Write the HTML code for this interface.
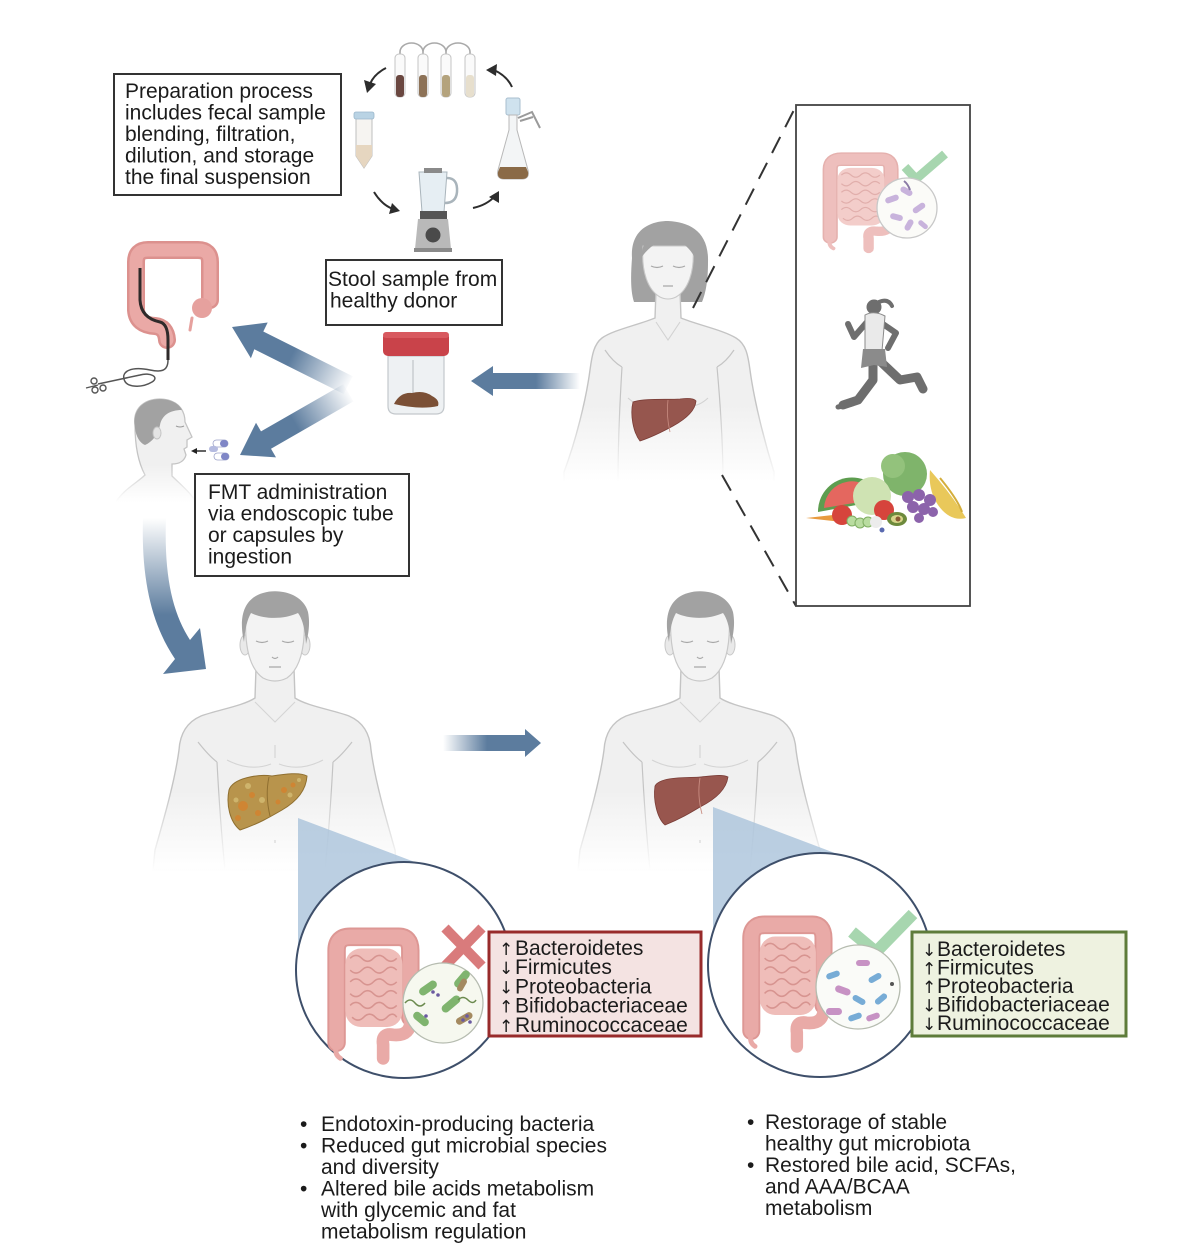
<!DOCTYPE html>
<html><head><meta charset="utf-8">
<style>
html,body{margin:0;padding:0;background:#fff;}
svg{display:block;}
text{font-family:"Liberation Sans",Arial,sans-serif;fill:#1b1b1b;}
.ar{font-family:"DejaVu Sans","Liberation Sans",sans-serif;font-size:17px;}
</style></head><body>
<svg width="1190" height="1247" viewBox="0 0 1190 1247" xmlns="http://www.w3.org/2000/svg">
<defs>
 <linearGradient id="manFill" gradientUnits="userSpaceOnUse" x1="0" y1="790" x2="0" y2="872">
  <stop offset="0" stop-color="#f0f0f0"/><stop offset="1" stop-color="#ffffff"/></linearGradient>
 <linearGradient id="manStroke" gradientUnits="userSpaceOnUse" x1="0" y1="790" x2="0" y2="872">
  <stop offset="0" stop-color="#c4c4c4"/><stop offset="1" stop-color="#ffffff"/></linearGradient>
 <linearGradient id="womFill" gradientUnits="userSpaceOnUse" x1="0" y1="405" x2="0" y2="482">
  <stop offset="0" stop-color="#f0f0f0"/><stop offset="1" stop-color="#ffffff"/></linearGradient>
 <linearGradient id="womStroke" gradientUnits="userSpaceOnUse" x1="0" y1="405" x2="0" y2="482">
  <stop offset="0" stop-color="#c4c4c4"/><stop offset="1" stop-color="#ffffff"/></linearGradient>
 <linearGradient id="profFill" gradientUnits="userSpaceOnUse" x1="0" y1="465" x2="0" y2="502">
  <stop offset="0" stop-color="#f0f0f0"/><stop offset="1" stop-color="#ffffff"/></linearGradient>
 <linearGradient id="profStroke" gradientUnits="userSpaceOnUse" x1="0" y1="465" x2="0" y2="502">
  <stop offset="0" stop-color="#c4c4c4"/><stop offset="1" stop-color="#ffffff"/></linearGradient>

 <linearGradient id="gH" gradientUnits="userSpaceOnUse" x1="470" y1="0" x2="580" y2="0">
  <stop offset="0" stop-color="#5c7c9e"/><stop offset="0.6" stop-color="#5c7c9e"/><stop offset="1" stop-color="#5c7c9e" stop-opacity="0"/></linearGradient>
 <linearGradient id="gU" gradientUnits="userSpaceOnUse" x1="232" y1="327" x2="350" y2="386">
  <stop offset="0" stop-color="#5c7c9e"/><stop offset="0.5" stop-color="#5c7c9e"/><stop offset="1" stop-color="#5c7c9e" stop-opacity="0"/></linearGradient>
 <linearGradient id="gL" gradientUnits="userSpaceOnUse" x1="240" y1="455" x2="350" y2="392">
  <stop offset="0" stop-color="#5c7c9e"/><stop offset="0.5" stop-color="#5c7c9e"/><stop offset="1" stop-color="#5c7c9e" stop-opacity="0"/></linearGradient>
 <linearGradient id="gC" gradientUnits="userSpaceOnUse" x1="0" y1="518" x2="0" y2="615">
  <stop offset="0" stop-color="#5c7c9e" stop-opacity="0"/><stop offset="1" stop-color="#5c7c9e"/></linearGradient>
 <linearGradient id="gM" gradientUnits="userSpaceOnUse" x1="443" y1="0" x2="541" y2="0">
  <stop offset="0" stop-color="#5c7c9e" stop-opacity="0"/><stop offset="0.45" stop-color="#5c7c9e"/><stop offset="1" stop-color="#5c7c9e"/></linearGradient>

 <g id="man">
  <path d="M -19,668 L -20,698 C -32,706 -58,710 -74,716 C -88,722 -95,734 -96,750 C -100,780 -110,815 -120,850 L -122,870 L 122,870 L 120,850 C 110,815 100,780 96,750 C 95,734 88,722 74,716 C 58,710 32,706 20,698 L 19,668 Z" fill="url(#manFill)" stroke="url(#manStroke)" stroke-width="1.4"/>
  <path d="M -58,762 Q -55,820 -50,870 M 58,762 Q 55,820 50,870 M -77,742 Q -66,756 -58,762 M 77,742 Q 66,756 58,762" fill="none" stroke="url(#manStroke)" stroke-width="1.2"/>
  <path d="M -20,702 L 0,722 L 20,702 M -48,760 Q -25,772 -4,764 M 48,760 Q 25,772 4,764 M 0,745 V 758 M 0,840 v 3" fill="none" stroke="#d4d4d4" stroke-width="1.1"/>
  <ellipse cx="-30" cy="645" rx="5" ry="10" fill="#e9e9e9" stroke="#c8c8c8"/>
  <ellipse cx="30" cy="645" rx="5" ry="10" fill="#e9e9e9" stroke="#c8c8c8"/>
  <path d="M -29,612 C -31,645 -26,668 -12,678 Q 0,684 12,678 C 26,668 31,645 29,612 Z" fill="#f3f3f3" stroke="#c8c8c8" stroke-width="1.2"/>
  <path d="M -31,642 C -37,615 -30,598 -12,593 C 5,588 28,594 33,612 C 35,622 34,632 31,644 C 30,630 28,620 23,613 C 8,620 -12,619 -24,613 C -29,622 -30,632 -31,642 Z" fill="#a2a2a2"/>
  <path d="M -19,641 Q -13,644 -7,641 M 7,641 Q 13,644 19,641 M -3,657 Q 0,660 3,657 M -6,667 L 6,667" fill="none" stroke="#a8a8a8" stroke-width="1.2"/>
 </g>

 <g id="gut">
  <path d="M14,118 L14,24 Q14,10 28,10 L78,10 Q90,10 90,24 L90,92" stroke="#dd9794" stroke-width="19" fill="none" stroke-linecap="round"/>
  <path d="M14,118 L14,24 Q14,10 28,10 L78,10 Q90,10 90,24 L90,92" stroke="#e9aaa7" stroke-width="15" fill="none" stroke-linecap="round"/>
  <rect x="23" y="22" width="59" height="80" rx="16" fill="#efbdb9"/>
  <path d="M28,32 q6,-6 12,0 t12,0 t12,0 t12,0 M28,44 q6,6 12,0 t12,0 t12,0 t12,0 M28,56 q6,-6 12,0 t12,0 t12,0 t12,0 M28,68 q6,6 12,0 t12,0 t12,0 t12,0 M28,80 q6,-6 12,0 t12,0 t12,0 t12,0 M30,92 q6,6 12,0 t12,0 t12,0 t10,0" stroke="#d79490" stroke-width="1.6" fill="none"/>
  <path d="M90,92 Q92,112 72,110 Q60,108 62,120 L62,134" stroke="#e9aaa7" stroke-width="13" fill="none" stroke-linecap="round"/>
  <path d="M14,120 Q11,130 18,134" stroke="#e9aaa7" stroke-width="5" fill="none" stroke-linecap="round"/>
 </g>
</defs>

<rect width="1190" height="1247" fill="#fff"/>

<!-- ===== Top preparation box ===== -->
<rect x="114" y="74" width="227" height="121" fill="#fff" stroke="#333" stroke-width="2"/>
<g font-size="21">
 <text x="125" y="98">Preparation process</text>
 <text x="125" y="119.5">includes fecal sample</text>
 <text x="125" y="141">blending, filtration,</text>
 <text x="125" y="162.5">dilution, and storage</text>
 <text x="125" y="184">the final suspension</text>
</g>

<!-- tubes -->
<path d="M400,58 V52 A11.5,9 0 0 1 423,52 V58 M423,52 A11.5,9 0 0 1 446,52 V58 M446,52 A12,9 0 0 1 470,52 V60" fill="none" stroke="#a9a9a9" stroke-width="1.6"/>
<g stroke="#c4c4c4" stroke-width="1">
 <rect x="395" y="54" width="10" height="43" rx="4" fill="#fafafa"/>
 <rect x="418" y="54" width="10" height="43" rx="4" fill="#fafafa"/>
 <rect x="441" y="54" width="10" height="43" rx="4" fill="#fafafa"/>
 <rect x="465" y="54" width="10" height="43" rx="4" fill="#fafafa"/>
</g>
<rect x="396" y="75" width="8" height="22" rx="3" fill="#6a4740"/>
<rect x="419" y="75" width="8" height="22" rx="3" fill="#8d7257"/>
<rect x="442" y="75" width="8" height="22" rx="3" fill="#b4a37d"/>
<rect x="466" y="75" width="8" height="22" rx="3" fill="#e7dfcd"/>

<!-- circular arrows -->
<g fill="none" stroke="#2d2d2d" stroke-width="2">
 <path d="M386,68 Q374,74 370,84"/>
 <path d="M512,87 Q507,76 494,70"/>
 <path d="M374,192 Q382,205 393,209"/>
 <path d="M473,208 Q487,205 495,196"/>
</g>
<g fill="#2d2d2d">
 <polygon points="364,80 376,84 367,93"/>
 <polygon points="486,70 497,64 496,76"/>
 <polygon points="400,211 389,214 392,203"/>
 <polygon points="499,191 499,203 489,197"/>
</g>

<!-- falcon tube -->
<path d="M356,118 H372 V156 L364,168 L356,156 Z" fill="#f6f4f1" stroke="#bfbfbf" stroke-width="1"/>
<path d="M356,145 H372 V156 L364,168 L356,156 Z" fill="#e6d6c0"/>
<rect x="354" y="112" width="20" height="7" rx="2" fill="#b9d3e4" stroke="#9bb7cb" stroke-width="0.8"/>

<!-- flask -->
<rect x="506" y="98" width="14" height="17" rx="2" fill="#cfe2ee" stroke="#a8bfcf" stroke-width="1"/>
<path d="M509,115 H517 V130 L528,170 Q530,179 522,179 H504 Q496,179 498,170 L509,130 Z" fill="#f3f5f6" stroke="#b8b8b8" stroke-width="1"/>
<path d="M500,167 H526 L528,172 Q529,179 522,179 H504 Q497,179 498,172 Z" fill="#8a6a47"/>
<path d="M518,118 L532,112 L540,128 M520,121 L533,117" fill="none" stroke="#9a9a9a" stroke-width="2"/>

<!-- blender -->
<path d="M419,172 H447 L444,212 H422 Z" fill="#e6eef3" stroke="#a9b4bb" stroke-width="1"/>
<path d="M447,178 Q458,178 457,192 Q456,203 445,203" fill="none" stroke="#a9b4bb" stroke-width="2.5"/>
<rect x="424" y="168" width="18" height="5" fill="#8a8a8a"/>
<rect x="420" y="211" width="27" height="8" fill="#555"/>
<path d="M418,219 H448 L451,249 H415 Z" fill="#b9b9b9"/>
<rect x="414" y="248" width="38" height="4" fill="#8a8a8a"/>
<circle cx="433" cy="235" r="7.5" fill="#4a4a4a"/>

<!-- stool box -->
<rect x="326" y="260" width="176" height="65" fill="#fff" stroke="#333" stroke-width="2"/>
<text x="328" y="286" font-size="21">Stool sample from</text>
<text x="330" y="307.5" font-size="21">healthy donor</text>

<!-- jar -->
<path d="M388,356 H444 V406 Q444,414 436,414 H396 Q388,414 388,406 Z" fill="#eef1f3" stroke="#c3c8cc" stroke-width="1.2"/>
<path d="M413,360 V393" stroke="#c8ccd0" stroke-width="1.5"/>
<path d="M394,404 Q400,392 412,393 Q424,390 432,396 Q440,400 438,406 Q420,410 394,404 Z" fill="#7b5036"/>
<rect x="383" y="332" width="66" height="24" rx="5" fill="#c9434a"/>
<rect x="383" y="332" width="66" height="6" rx="3" fill="#d8595f"/>

<!-- arrows from donor -->
<polygon points="471,381 493,366 493,373 580,373 580,389 493,389 493,396" fill="url(#gH)"/>
<polygon points="232,327 267.7,322.5 263.3,331.5 352.7,376.2 343.7,394 254.3,349.3 250.9,358.3" fill="url(#gU)"/>
<polygon points="240,455 256,422.8 261,431.4 343.4,384.1 353.4,401.4 271,448.8 276,457.4" fill="url(#gL)"/>

<!-- colon with endoscope -->
<path d="M210,300 L210,262 Q210,250 198,250 L148,250 Q136,250 136,262 L136,310 Q137,325 155,326 Q166,327 167,340" fill="none" stroke="#dc918e" stroke-width="18" stroke-linecap="round"/>
<path d="M210,300 L210,262 Q210,250 198,250 L148,250 Q136,250 136,262 L136,310 Q137,325 155,326 Q166,327 167,340" fill="none" stroke="#eaa9a6" stroke-width="13" stroke-linecap="round"/>
<circle cx="202" cy="308" r="10" fill="#e6a19e"/>
<path d="M192,318 L190,330" stroke="#e6a19e" stroke-width="3" stroke-linecap="round"/>
<path d="M140,268 L140,300 Q141,318 160,322 Q168,324 168,340 L168,360" fill="none" stroke="#2f2a2a" stroke-width="3"/>
<path d="M168,360 C168,372 160,372 150,370 C130,366 122,372 124,379 C126,388 142,388 152,382 C160,377 150,372 140,375 L98,384" fill="none" stroke="#555" stroke-width="1.5"/>
<g fill="none" stroke="#555" stroke-width="1.4"><circle cx="94" cy="381" r="3"/><circle cx="95" cy="390" r="3"/><circle cx="103" cy="388" r="3"/><path d="M98,385 L86,388"/></g>

<!-- profile man with capsules -->
<path d="M135,425 C132,405 150,396 168,400 C180,403 185,412 185,422 L192,437 L187,440 L187,447 L184,449 L186,455 C184,462 178,464 172,464 L172,476 C180,484 190,492 196,502 L116,502 C123,490 138,482 145,475 C138,462 135,445 135,425 Z" fill="url(#profFill)" stroke="url(#profStroke)" stroke-width="1.3"/>
<path d="M135,428 C131,405 150,396 168,400 C176,402 180,406 182,410 C170,410 162,415 160,425 C158,435 152,442 145,445 C140,443 136,437 135,428 Z" fill="#a2a2a2"/>
<ellipse cx="157" cy="433" rx="4" ry="6" fill="#e4e4e4" stroke="#c4c4c4"/>
<path d="M176,426 Q180,428 184,426" stroke="#999" fill="none"/>
<g>
 <rect x="213" y="440" width="15" height="7" rx="3.5" fill="#fff" stroke="#9aa0c8" stroke-width="0.8"/>
 <rect x="220" y="440" width="8" height="7" rx="3.5" fill="#7f86c6"/>
 <rect x="214" y="453" width="15" height="7" rx="3.5" fill="#fff" stroke="#9aa0c8" stroke-width="0.8"/>
 <rect x="221" y="453" width="8" height="7" rx="3.5" fill="#7f86c6"/>
 <rect x="209" y="446" width="9" height="6" rx="3" fill="#b5bbe0"/>
</g>
<path d="M206,451 H196" stroke="#222" stroke-width="1.4"/>
<polygon points="191,451 197,448 197,454" fill="#222"/>

<!-- FMT box -->
<rect x="195" y="474" width="214" height="102" fill="#fff" stroke="#333" stroke-width="2"/>
<g font-size="21">
 <text x="208" y="499">FMT administration</text>
 <text x="208" y="520.5">via endoscopic tube</text>
 <text x="208" y="542">or capsules by</text>
 <text x="208" y="563.5">ingestion</text>
</g>

<!-- curved arrow -->
<path d="M143,518 C141,580 152,625 175,659 L163,674 L206,669 L200,628 L190,640 C172,612 164,575 166,518 Z" fill="url(#gC)"/>

<!-- woman -->
<g transform="translate(668,0)">
 <path d="M -36,258 C -38,230 -18,221 0,221 C 22,222 41,232 40,262 C 40,280 38,292 34,302 L -34,302 C -38,290 -37,272 -36,258 Z" fill="#a2a2a2"/>
 <path d="M -12,290 L -13,318 C -30,325 -55,330 -66,338 C -74,344 -76,355 -78,370 C -82,400 -92,440 -104,472 L -104,482 L 106,482 L 106,472 C 96,440 86,400 82,370 C 80,355 78,344 68,338 C 55,330 30,325 13,318 L 12,290 Z" fill="url(#womFill)" stroke="url(#womStroke)" stroke-width="1.4"/>
 <path d="M -46,367 C -48,400 -50,440 -50,482 M 49,367 C 52,400 55,440 55,482 M -63,350 Q -55,362 -46,367 M 66,350 Q 58,362 49,367" fill="none" stroke="url(#womStroke)" stroke-width="1.2"/>
 <path d="M -40,398 Q -25,412 -8,402 M 8,402 Q 25,412 40,398 M -12,322 L 0,340 L 12,322" fill="none" stroke="#d2d2d2" stroke-width="1.1"/>
 <path d="M -25,246 C -27,272 -20,290 -8,297 Q 0,301 8,297 C 20,290 27,272 25,246 Z" fill="#f3f3f3" stroke="#c8c8c8" stroke-width="1.1"/>
 <path d="M -27,258 C -26,236 -8,226 8,229 C 20,232 28,242 27,258 C 20,244 8,238 -2,240 C -12,242 -20,248 -27,258 Z" fill="#a2a2a2"/>
 <path d="M -17,266 Q -11,269 -5,266 M 5,266 Q 11,269 17,266 M -5,286 L 5,286" fill="none" stroke="#a8a8a8" stroke-width="1.2"/>
</g>
<path d="M633,402 C645,398 668,400 680,399 C688,398 694,398 696,401 C695,412 684,420 673,426 C662,432 652,437 640,441 C633,432 630,414 633,402 Z" fill="#96564e" stroke="#7a3d37" stroke-width="0.8"/>
<path d="M668,400 Q666,415 670,432" stroke="#c98d82" stroke-width="0.8" fill="none"/>

<!-- dashed lines and right box -->
<path d="M693,308 L796,106 M722,475 L796,606" stroke="#333" stroke-width="2" stroke-dasharray="18 11" fill="none"/>
<rect x="796" y="105" width="174" height="501" fill="none" stroke="#444" stroke-width="1.8"/>

<!-- box content: gut -->
<g opacity="0.75"><use href="#gut" transform="translate(819,152) scale(0.8,0.72)"/></g>
<path d="M905,167 L916,179 L945,154" fill="none" stroke="#a7d6af" stroke-width="9"/>
<circle cx="907" cy="208" r="30" fill="#fbfbf8" stroke="#c8c8c8" stroke-width="1.3"/>
<g fill="#c8b3dc">
 <rect x="885" y="196" width="14" height="6" rx="3" transform="rotate(-20 892 199)"/>
 <rect x="900" y="188" width="13" height="6" rx="3" transform="rotate(30 906 191)"/>
 <rect x="912" y="205" width="14" height="6" rx="3" transform="rotate(-35 919 208)"/>
 <rect x="890" y="214" width="13" height="6" rx="3" transform="rotate(15 896 217)"/>
 <rect x="903" y="222" width="12" height="6" rx="3" transform="rotate(-60 909 225)"/>
 <rect x="918" y="222" width="11" height="5" rx="2.5" transform="rotate(40 923 224)"/>
</g>
<path d="M904,181 Q908,184 910,190" stroke="#8a7aa6" stroke-width="2" fill="none"/>

<!-- runner -->
<g fill="#6e6e6e" stroke="#6e6e6e" stroke-linecap="round" stroke-linejoin="round">
 <circle cx="874" cy="307" r="7.5" stroke="none"/>
 <path d="M879,302 Q888,298 892,306" fill="none" stroke-width="4"/>
 <path d="M867,322 L854,337 L848,324" fill="none" stroke-width="6"/>
 <path d="M880,322 L896,333 L888,348" fill="none" stroke-width="6"/>
 <path d="M873,362 L873,380 L858,400 L843,405" fill="none" stroke-width="9"/>
 <path d="M881,362 L900,380 L917,377 L923,389" fill="none" stroke-width="9"/>
 <path d="M838,407 L852,404" fill="none" stroke-width="5"/>
</g>
<path d="M865,315 Q874,310 885,316 L882,351 L865,351 Z" fill="#eaeaea" stroke="#8a8a8a" stroke-width="1"/>
<path d="M863,349 L885,349 L887,367 L874,365 L861,368 Z" fill="#8b8b8b"/>

<!-- fruits -->
<path d="M818,512 A34,34 0 0 1 884,500 Z" fill="#5d9d4f"/>
<path d="M824,508 A28,28 0 0 1 878,499 Z" fill="#e4675f"/>
<circle cx="905" cy="474" r="22" fill="#7fb46b"/>
<circle cx="893" cy="466" r="12" fill="#93c27c"/>
<circle cx="872" cy="496" r="19" fill="#cfe3b3"/>
<path d="M930,470 Q952,495 966,518 Q950,522 938,505 Q928,490 930,470 Z" fill="#e9c85a"/>
<path d="M940,478 Q958,500 962,512" stroke="#d4ae3c" fill="none" stroke-width="2"/>
<g fill="#8c63ab"><circle cx="908" cy="497" r="6"/><circle cx="919" cy="495" r="6"/><circle cx="930" cy="500" r="6"/><circle cx="913" cy="507" r="6"/><circle cx="924" cy="509" r="6"/><circle cx="919" cy="518" r="5"/><circle cx="933" cy="512" r="5"/></g>
<path d="M806,518 L842,514 L842,522 Z" fill="#e89a3e"/>
<circle cx="842" cy="515" r="10" fill="#d6443c"/>
<circle cx="884" cy="510" r="10" fill="#d6443c"/>
<g fill="#b9dca0" stroke="#7fae62" stroke-width="1"><circle cx="852" cy="521" r="5"/><circle cx="860" cy="523" r="5"/><circle cx="868" cy="522" r="5"/></g>
<ellipse cx="897" cy="519" rx="10" ry="7" fill="#6d8a3c"/><ellipse cx="897" cy="519" rx="6" ry="4" fill="#d8d48a"/><circle cx="898" cy="519" r="2.5" fill="#8a5a32"/>
<circle cx="876" cy="522" r="6" fill="#ececec"/>
<circle cx="882" cy="530" r="2.5" fill="#5a6ab0"/>

<!-- bottom men -->
<use href="#man" transform="translate(275,0)"/>
<use href="#man" transform="translate(700,0)"/>

<!-- diseased liver -->
<path d="M229,790 C233,778 258,774 272,776 C285,774 300,772 307,776 C306,792 294,803 282,810 C270,817 258,824 240,830 C230,822 226,805 229,790 Z" fill="#b8944c" stroke="#8f6f30" stroke-width="1"/>
<path d="M269,777 Q265,795 270,816" stroke="#8f6f30" stroke-width="1" fill="none"/>
<g fill="#d5822e" opacity="0.8"><circle cx="243" cy="806" r="5"/><circle cx="252" cy="795" r="3"/><circle cx="238" cy="818" r="3"/><circle cx="258" cy="813" r="3"/><circle cx="284" cy="790" r="3"/><circle cx="293" cy="785" r="2.5"/><circle cx="278" cy="802" r="2.5"/></g>
<g fill="#d8c27a" opacity="0.7"><circle cx="248" cy="786" r="3"/><circle cx="262" cy="800" r="3"/><circle cx="236" cy="800" r="2.5"/><circle cx="290" cy="795" r="2.5"/><circle cx="299" cy="780" r="2"/></g>

<!-- healthy liver right man -->
<path d="M655,786 C660,776 690,778 700,777 C712,776 722,774 728,777 C726,791 712,801 700,807 C690,813 680,819 665,825 C657,818 653,800 655,786 Z" fill="#98564e" stroke="#7a3d37" stroke-width="0.8"/>
<path d="M700,778 Q697,795 702,814" stroke="#c98d82" stroke-width="0.9" fill="none"/>

<!-- middle arrow -->
<polygon points="443,735 525,735 525,729 541,743 525,757 525,751 443,751" fill="url(#gM)"/>

<!-- cones -->
<polygon points="298,818 420,864 404,970 298,950" fill="#a8c1da" opacity="0.78"/>
<polygon points="713,807 848,858 820,965 713,945" fill="#a8c1da" opacity="0.78"/>

<!-- circles -->
<circle cx="404" cy="970" r="108" fill="#fff" stroke="#3e4f6a" stroke-width="2"/>
<circle cx="820" cy="965" r="112" fill="#fff" stroke="#3e4f6a" stroke-width="2"/>

<!-- left circle content -->
<use href="#gut" transform="translate(323,927) scale(0.97,0.98)"/>
<path d="M445,928 L482,966 M482,928 L445,966" stroke="#d97b7c" stroke-width="10"/>
<circle cx="443" cy="1003" r="40" fill="#f6f8ef" stroke="#b6bcb0" stroke-width="1.3"/>
<g fill="#7fb46e">
 <rect x="418" y="984" width="20" height="8" rx="4" transform="rotate(-35 428 988)"/>
 <rect x="452" y="975" width="20" height="8" rx="4" transform="rotate(-50 462 979)"/>
 <rect x="440" y="1000" width="22" height="8" rx="4" transform="rotate(-40 451 1004)"/>
 <rect x="412" y="1015" width="18" height="8" rx="4" transform="rotate(40 421 1019)"/>
</g>
<rect x="455" y="1015" width="18" height="7" rx="3.5" fill="#a48a60" transform="rotate(-30 464 1018)"/>
<rect x="455" y="982" width="14" height="6" rx="3" fill="#a48a60" transform="rotate(-60 462 985)"/>
<path d="M405,1003 q5,-6 10,0 t10,0 M458,1000 q5,-5 10,0 t8,0" stroke="#6b8a4e" stroke-width="1.5" fill="none"/>
<g fill="#6a5aa0"><circle cx="433" cy="992" r="1.8"/><circle cx="438" cy="995" r="1.8"/><circle cx="426" cy="1016" r="1.8"/><circle cx="463" cy="1020" r="1.8"/><circle cx="467" cy="1016" r="1.8"/><circle cx="470" cy="1022" r="1.8"/></g>

<!-- right circle content -->
<use href="#gut" transform="translate(738,915) scale(0.95,0.98)"/>
<path d="M852,932 L876,952 L913,914" fill="none" stroke="#a7d6af" stroke-width="12"/>
<circle cx="858" cy="987" r="42" fill="#fafbf8" stroke="#b6bcb0" stroke-width="1.3"/>
<g>
 <rect x="826" y="972" width="14" height="6" rx="3" fill="#77acd6" transform="rotate(-20 833 975)"/>
 <rect x="856" y="960" width="14" height="6" rx="3" fill="#c792c4"/>
 <rect x="868" y="975" width="14" height="6" rx="3" fill="#77acd6" transform="rotate(-30 875 978)"/>
 <rect x="835" y="987" width="16" height="7" rx="3.5" fill="#c792c4" transform="rotate(20 843 990)"/>
 <rect x="852" y="997" width="14" height="6" rx="3" fill="#77acd6" transform="rotate(30 859 1000)"/>
 <rect x="874" y="996" width="14" height="6" rx="3" fill="#77acd6" transform="rotate(-40 881 999)"/>
 <rect x="826" y="1008" width="16" height="7" rx="3.5" fill="#c792c4"/>
 <rect x="848" y="1014" width="14" height="6" rx="3" fill="#77acd6" transform="rotate(-20 855 1017)"/>
 <rect x="866" y="1014" width="14" height="6" rx="3" fill="#c792c4" transform="rotate(-20 873 1017)"/>
</g>
<circle cx="892" cy="984" r="2" fill="#555"/>

<!-- red box -->
<rect x="489" y="932" width="212" height="104" fill="#f4e3e2" stroke="#982b2b" stroke-width="3"/>
<g font-size="21">
 <text x="499" y="955" class="ar">↑</text><text x="515" y="955">Bacteroidetes</text>
 <text x="499" y="974.2" class="ar">↓</text><text x="515" y="974.2">Firmicutes</text>
 <text x="499" y="993.5" class="ar">↓</text><text x="515" y="993.5">Proteobacteria</text>
 <text x="499" y="1012.7" class="ar">↑</text><text x="515" y="1012.7">Bifidobacteriaceae</text>
 <text x="499" y="1032" class="ar">↑</text><text x="515" y="1032">Ruminococcaceae</text>
</g>

<!-- green box -->
<rect x="912" y="932" width="214" height="104" fill="#eef2e0" stroke="#5e7c3a" stroke-width="3"/>
<g font-size="21">
 <text x="922" y="956" class="ar">↓</text><text x="937" y="956">Bacteroidetes</text>
 <text x="922" y="974.5" class="ar">↑</text><text x="937" y="974.5">Firmicutes</text>
 <text x="922" y="993" class="ar">↑</text><text x="937" y="993">Proteobacteria</text>
 <text x="922" y="1011.5" class="ar">↓</text><text x="937" y="1011.5">Bifidobacteriaceae</text>
 <text x="922" y="1030" class="ar">↓</text><text x="937" y="1030">Ruminococcaceae</text>
</g>

<!-- bottom lists -->
<g font-size="21">
 <text x="300" y="1131">•</text><text x="321" y="1131">Endotoxin-producing bacteria</text>
 <text x="300" y="1152.5">•</text><text x="321" y="1152.5">Reduced gut microbial species</text>
 <text x="321" y="1174">and diversity</text>
 <text x="300" y="1195.5">•</text><text x="321" y="1195.5">Altered bile acids metabolism</text>
 <text x="321" y="1217">with glycemic and fat</text>
 <text x="321" y="1238.5">metabolism regulation</text>

 <text x="747" y="1129">•</text><text x="765" y="1129">Restorage of stable</text>
 <text x="765" y="1150.5">healthy gut microbiota</text>
 <text x="747" y="1172">•</text><text x="765" y="1172">Restored bile acid, SCFAs,</text>
 <text x="765" y="1193.5">and AAA/BCAA</text>
 <text x="765" y="1215">metabolism</text>
</g>
</svg>
</body></html>
